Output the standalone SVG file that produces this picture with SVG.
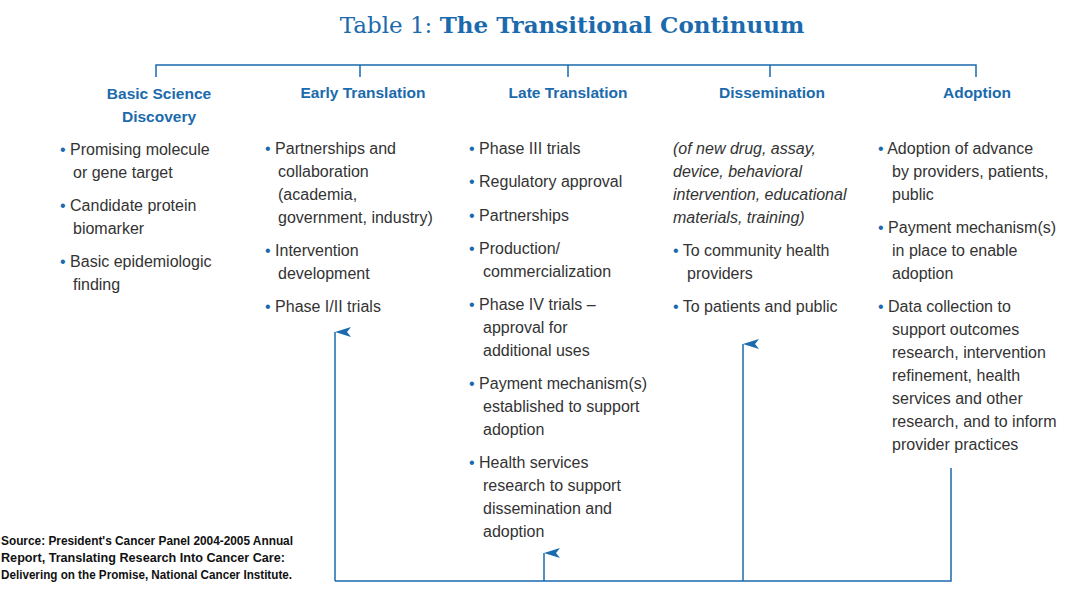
<svg xmlns="http://www.w3.org/2000/svg" width="1080" height="595" viewBox="0 0 1080 595">
<defs>
<marker id="ah" viewBox="0 0 10 16" refX="5" refY="0" markerWidth="10" markerHeight="16" markerUnits="userSpaceOnUse" orient="auto-start-reverse"><path d="M0,16 L5,0 L10,16 L5,12 Z" fill="#1a6aad"/></marker>
<style>
.t{font-family:"Liberation Sans",Arial,sans-serif;font-size:16px;fill:#333}
.h{font-family:"Liberation Sans",Arial,sans-serif;font-size:15.5px;font-weight:bold;fill:#1a6aad;text-anchor:middle}
.i{font-style:italic}
.b{fill:#1a6aad}
.ln{stroke:#1a6aad;stroke-width:1.5;fill:none}
.src{font-family:"Liberation Sans",Arial,sans-serif;font-size:12px;font-weight:bold;fill:#111}
</style>
</defs>
<rect width="1080" height="595" fill="#fff"/>
<text x="572" y="33" text-anchor="middle" font-family="'DejaVu Serif',serif" font-size="23" fill="#1a6aad">Table 1: <tspan font-weight="bold">The Transitional Continuum</tspan></text>
<g id="connectors" class="ln">
<path d="M156,77 V65 H976 V77 M360,65 V77 M568,65 V77 M770,65 V77"/>
<path d="M335,581 H951 V468"/>
<path d="M335,581 V332" marker-end="url(#ah)"/>
<path d="M743,581 V344" marker-end="url(#ah)"/>
<path d="M544,581 V553" marker-end="url(#ah)"/>
</g>
<g id="basic">
<text class="h" x="159" y="99">Basic Science</text><text class="h" x="159" y="122">Discovery</text>
<g class="t"><text x="60" y="155"><tspan class="b">•</tspan> Promising molecule</text><text x="73" y="178">or gene target</text>
<text x="60" y="211"><tspan class="b">•</tspan> Candidate protein</text><text x="73" y="234">biomarker</text>
<text x="60" y="267"><tspan class="b">•</tspan> Basic epidemiologic</text><text x="73" y="290">finding</text></g>
</g>
<g id="early">
<text class="h" x="363" y="98">Early Translation</text>
<g class="t"><text x="265" y="154"><tspan class="b">•</tspan> Partnerships and</text><text x="278" y="177">collaboration</text><text x="278" y="200">(academia,</text><text x="278" y="223">government, industry)</text>
<text x="265" y="256"><tspan class="b">•</tspan> Intervention</text><text x="278" y="279">development</text>
<text x="265" y="312"><tspan class="b">•</tspan> Phase I/II trials</text></g>
</g>
<g id="late">
<text class="h" x="568" y="98">Late Translation</text>
<g class="t"><text x="469" y="154"><tspan class="b">•</tspan> Phase III trials</text>
<text x="469" y="187"><tspan class="b">•</tspan> Regulatory approval</text>
<text x="469" y="221"><tspan class="b">•</tspan> Partnerships</text>
<text x="469" y="254"><tspan class="b">•</tspan> Production/</text><text x="483" y="277">commercialization</text>
<text x="469" y="310"><tspan class="b">•</tspan> Phase IV trials –</text><text x="483" y="333">approval for</text><text x="483" y="356">additional uses</text>
<text x="469" y="389"><tspan class="b">•</tspan> Payment mechanism(s)</text><text x="483" y="412">established to support</text><text x="483" y="435">adoption</text>
<text x="469" y="468"><tspan class="b">•</tspan> Health services</text><text x="483" y="491">research to support</text><text x="483" y="514">dissemination and</text><text x="483" y="537">adoption</text></g>
</g>
<g id="dissemination">
<text class="h" x="772" y="98">Dissemination</text>
<g class="t"><text class="i" x="673" y="154">(of new drug, assay,</text><text class="i" x="673" y="177">device, behavioral</text><text class="i" x="673" y="200">intervention, educational</text><text class="i" x="673" y="223">materials, training)</text>
<text x="673" y="256"><tspan class="b">•</tspan> To community health</text><text x="687" y="279">providers</text>
<text x="673" y="312"><tspan class="b">•</tspan> To patients and public</text></g>
</g>
<g id="adoption">
<text class="h" x="977" y="98">Adoption</text>
<g class="t"><text x="878" y="154"><tspan class="b">•</tspan> Adoption of advance</text><text x="892" y="177">by providers, patients,</text><text x="892" y="200">public</text>
<text x="878" y="233"><tspan class="b">•</tspan> Payment mechanism(s)</text><text x="892" y="256">in place to enable</text><text x="892" y="279">adoption</text>
<text x="878" y="312"><tspan class="b">•</tspan> Data collection to</text><text x="892" y="335">support outcomes</text><text x="892" y="358">research, intervention</text><text x="892" y="381">refinement, health</text><text x="892" y="404">services and other</text><text x="892" y="427">research, and to inform</text><text x="892" y="450">provider practices</text></g>
</g>
<g id="source" class="src">
<text x="1" y="545" textLength="292" lengthAdjust="spacingAndGlyphs">Source: President's Cancer Panel 2004-2005 Annual</text>
<text x="1" y="562" textLength="284" lengthAdjust="spacingAndGlyphs">Report, Translating Research Into Cancer Care:</text>
<text x="1" y="579" textLength="291" lengthAdjust="spacingAndGlyphs">Delivering on the Promise, National Cancer Institute.</text>
</g>
</svg>
